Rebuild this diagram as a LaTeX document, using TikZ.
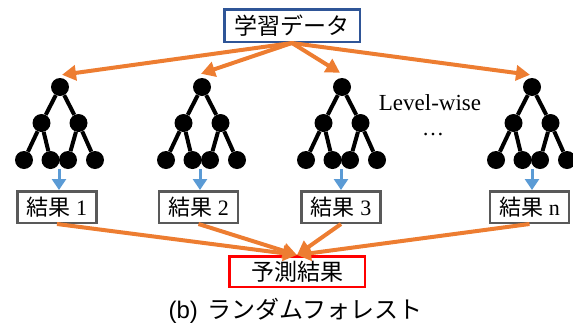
\documentclass[tikz,border=0pt]{standalone}
\usepackage{fontspec}
\setmainfont{Liberation Serif}
\newfontfamily\jpfont{Noto Sans CJK JP}
\newfontfamily\capfont{Liberation Sans}
\usetikzlibrary{arrows.meta}

\definecolor{rforange}{HTML}{ED7D31}
\definecolor{rfblue}{HTML}{5B9BD5}
\definecolor{rfnavy}{HTML}{2F5597}
\definecolor{rfgray}{HTML}{595959}
\definecolor{rfred}{HTML}{FF0000}

\tikzset{
  dot/.style={circle, fill=black, minimum size=18pt, inner sep=0pt},
  edge/.style={line width=4pt, black},
  % a three-level binary decision tree; the root sits at y = 87
  rftree/.pic={
    \node[dot] (-r)  at (0,87)      {};
    \node[dot] (-a)  at (-18.5,123) {};
    \node[dot] (-b)  at (18.5,123)  {};
    \node[dot] (-l1) at (-36,160)   {};
    \node[dot] (-l2) at (-9.5,160)  {};
    \node[dot] (-l3) at (8,160)     {};
    \node[dot] (-l4) at (35,160)    {};
    \draw[edge] (-r) -- (-a) (-r) -- (-b)
                (-a) -- (-l1) (-a) -- (-l2)
                (-b) -- (-l3) (-b) -- (-l4);
  },
  databox/.style={draw=rfnavy, line width=2.5pt, minimum width=135.5pt,
    minimum height=32.5pt, inner sep=0pt, font=\fontsize{23}{23}\selectfont\jpfont},
  resbox/.style={draw=rfgray, line width=2.5pt, minimum width=79pt,
    minimum height=31.5pt, inner sep=0pt, font=\fontsize{22}{22}\selectfont},
  predbox/.style={draw=rfred, line width=2.5pt, minimum width=135.5pt,
    minimum height=30.5pt, inner sep=0pt, font=\fontsize{23}{23}\selectfont\jpfont},
  oarrow/.style={draw=rforange, line width=4pt, -{Triangle[length=14pt,width=15pt]}},
  barrow/.style={draw=rfblue, line width=3pt, -{Triangle[length=11pt,width=14pt]}},
  plain/.style={inner sep=0pt},
}

\begin{document}
\begin{tikzpicture}[x=1pt, y=-1pt]
  \useasboundingbox (0,0) rectangle (573,327);

  % training data and the final prediction
  \node[databox] (data) at (292,25.5) {学習データ\hspace{10pt}};
  \node[predbox] (pred) at (297,271.5) {予測結果\hspace{6pt}};

  % per-tree results
  \node[resbox] (res1) at (57,207)    {{\jpfont 結果} 1};
  \node[resbox] (res2) at (198.5,207) {{\jpfont 結果} 2};
  \node[resbox] (res3) at (341,207)   {{\jpfont 結果} 3};
  \node[resbox] (resn) at (529.5,207) {{\jpfont 結果} n};

  % blue arrows first, so the leaves cover their tails
  \coordinate (b1) at (59,169);
  \coordinate (b2) at (200,169);
  \coordinate (b3) at (341,169);
  \coordinate (bn) at (532,169);
  \draw[barrow] (b1) -- (b1 |- res1.north);
  \draw[barrow] (b2) -- (b2 |- res2.north);
  \draw[barrow] (b3) -- (b3 |- res3.north);
  \draw[barrow] (bn) -- (bn |- resn.north);

  % the trees
  \pic (t1) at (60,0)  {rftree};
  \pic (t2) at (202,0) {rftree};
  \pic (t3) at (342,0) {rftree};
  \pic (tn) at (532,0) {rftree};

  % bootstrap samples to each tree
  \draw[oarrow] (data.south) -- ([xshift=2pt,yshift=3pt]t1-r.north);
  \draw[oarrow] (data.south) -- ([xshift=-1pt,yshift=4pt]t2-r.north);
  \draw[oarrow] (data.south) -- ([xshift=-2pt,yshift=5pt]t3-r.north);
  \draw[oarrow] (data.south) -- ([xshift=-2pt,yshift=3pt]tn-r.north);

  % results voted into the prediction
  \draw[oarrow] (res1.south) -- (pred.north);
  \draw[oarrow] (res2.south) -- (pred.north);
  \draw[oarrow] (res3.south) -- (pred.north);
  \draw[oarrow] (resn.south) -- (pred.north);

  % annotations
  \node[plain, font=\fontsize{23}{23}\selectfont] (lw) at (430,103) {Level-wise};
  \node[plain, font=\fontsize{22}{22}\selectfont] (dots) at (433,135) {…};

  % caption
  \node[plain, font=\fontsize{24}{24}\selectfont] (cap) at (295.5,311)
    {{\capfont (b)}\hspace{10pt}{\jpfont ランダムフォレスト}};
\end{tikzpicture}
\end{document}
